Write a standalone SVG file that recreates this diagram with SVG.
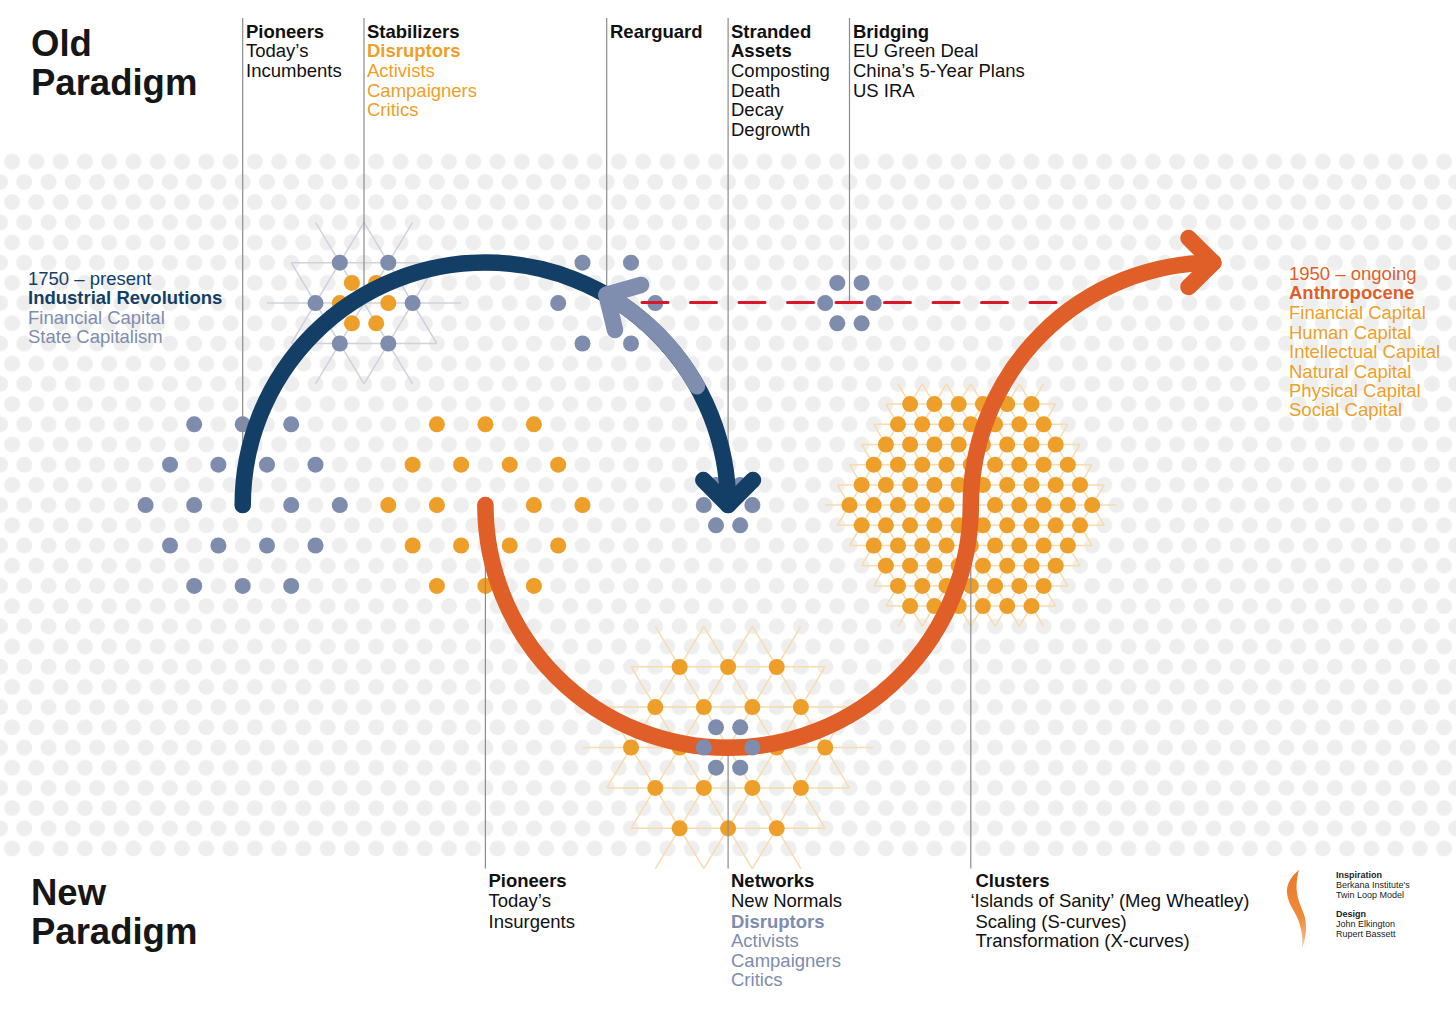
<svg xmlns="http://www.w3.org/2000/svg" width="1456" height="1011" viewBox="0 0 1456 1011">
<style>
text{font-family:"Liberation Sans",Arial,Helvetica,sans-serif;font-size:18.5px;fill:#111}
.h{font-size:36.5px;font-weight:700;fill:#161616}
.b{font-weight:700}
.o{fill:#ee9f2a}
.s{fill:#7e8dae}
.n{fill:#133f66}
.r{fill:#e05f28}
.c{font-size:9px;fill:#222}
.dot-o{fill:#ee9f2a}
.dot-s{fill:#7e8dae}
.lat{fill:none;stroke-width:1.5;vector-effect:non-scaling-stroke}
.v{fill:none;stroke:#8c8c8c;stroke-width:1.2}
.arc{fill:none;stroke-width:16.5;stroke-linecap:round;stroke-linejoin:round}
</style>
<defs>
<pattern id="bg" patternUnits="userSpaceOnUse" x="0" y="151.6" width="24.27" height="40.4">
<rect width="24.27" height="40.4" fill="#fff"/>
<circle cx="12.135" cy="10.1" r="8" fill="#eeeeee"/>
<circle cx="0" cy="30.3" r="8" fill="#eeeeee"/>
<circle cx="24.27" cy="30.3" r="8" fill="#eeeeee"/>
</pattern>
<linearGradient id="fl" x1="0" y1="0" x2="0" y2="1">
<stop offset="0" stop-color="#ea7a2c"/><stop offset="0.6" stop-color="#ee8a3a"/><stop offset="1" stop-color="#f6c9a0"/>
</linearGradient>
<g id="r11" class="dot-o"><circle cx="849.45" r="8"/><circle cx="873.72" r="8"/><circle cx="897.99" r="8"/><circle cx="922.26" r="8"/><circle cx="946.53" r="8"/><circle cx="970.8" r="8"/><circle cx="995.07" r="8"/><circle cx="1019.34" r="8"/><circle cx="1043.61" r="8"/><circle cx="1067.88" r="8"/><circle cx="1092.15" r="8"/></g>
<g id="r10" class="dot-o"><circle cx="861.6" r="8"/><circle cx="885.9" r="8"/><circle cx="910.1" r="8"/><circle cx="934.4" r="8"/><circle cx="958.7" r="8"/><circle cx="982.9" r="8"/><circle cx="1007.2" r="8"/><circle cx="1031.5" r="8"/><circle cx="1055.7" r="8"/><circle cx="1080" r="8"/></g>
<g id="r9" class="dot-o"><circle cx="873.72" r="8"/><circle cx="897.99" r="8"/><circle cx="922.26" r="8"/><circle cx="946.53" r="8"/><circle cx="970.8" r="8"/><circle cx="995.07" r="8"/><circle cx="1019.34" r="8"/><circle cx="1043.61" r="8"/><circle cx="1067.88" r="8"/></g>
<g id="r8" class="dot-o"><circle cx="885.9" r="8"/><circle cx="910.1" r="8"/><circle cx="934.4" r="8"/><circle cx="958.7" r="8"/><circle cx="982.9" r="8"/><circle cx="1007.2" r="8"/><circle cx="1031.5" r="8"/><circle cx="1055.7" r="8"/></g>
<g id="r7" class="dot-o"><circle cx="897.99" r="8"/><circle cx="922.26" r="8"/><circle cx="946.53" r="8"/><circle cx="970.8" r="8"/><circle cx="995.07" r="8"/><circle cx="1019.34" r="8"/><circle cx="1043.61" r="8"/></g>
<g id="r6" class="dot-o"><circle cx="910.1" r="8"/><circle cx="934.4" r="8"/><circle cx="958.7" r="8"/><circle cx="982.9" r="8"/><circle cx="1007.2" r="8"/><circle cx="1031.5" r="8"/></g>
</defs>

<rect width="1456" height="1011" fill="#fff"/>
<rect id="dot-field" x="0" y="151.6" width="1456" height="707" fill="url(#bg)"/>

<g id="node-stabilizers-old">
<path class="lat" stroke="#cfd2de" transform="translate(364.05 303.1) scale(24.27 40.4)" d="M-4 0H4M-3-1H3M-3 1H3M-3-1L0 2M-2-2L2 2M0-2L3 1M3-1L0 2M2-2L-2 2M0-2L-3 1"/>
<g class="dot-s"><circle cx="339.8" cy="262.7" r="8"/><circle cx="388.3" cy="262.7" r="8"/><circle cx="315.5" cy="303.1" r="8"/><circle cx="412.6" cy="303.1" r="8"/><circle cx="339.8" cy="343.5" r="8"/><circle cx="388.3" cy="343.5" r="8"/></g>
<g class="dot-o"><circle cx="351.9" cy="282.9" r="8"/><circle cx="376.2" cy="282.9" r="8"/><circle cx="339.8" cy="303.1" r="8"/><circle cx="388.3" cy="303.1" r="8"/><circle cx="351.9" cy="323.3" r="8"/><circle cx="376.2" cy="323.3" r="8"/></g>
</g>

<g id="node-pioneers-old" class="dot-s">
<circle cx="194.2" cy="424.3" r="8"/><circle cx="242.7" cy="424.3" r="8"/><circle cx="291.2" cy="424.3" r="8"/>
<circle cx="170" cy="464.7" r="8"/><circle cx="218.4" cy="464.7" r="8"/><circle cx="267" cy="464.7" r="8"/><circle cx="315.5" cy="464.7" r="8"/>
<circle cx="145.6" cy="505.1" r="8"/><circle cx="194.2" cy="505.1" r="8"/><circle cx="242.7" cy="505.1" r="8"/><circle cx="291.2" cy="505.1" r="8"/><circle cx="339.8" cy="505.1" r="8"/>
<circle cx="170" cy="545.5" r="8"/><circle cx="218.4" cy="545.5" r="8"/><circle cx="267" cy="545.5" r="8"/><circle cx="315.5" cy="545.5" r="8"/>
<circle cx="194.2" cy="585.9" r="8"/><circle cx="242.7" cy="585.9" r="8"/><circle cx="291.2" cy="585.9" r="8"/>
</g>

<g id="node-pioneers-new" class="dot-o">
<circle cx="436.9" cy="424.3" r="8"/><circle cx="485.4" cy="424.3" r="8"/><circle cx="533.9" cy="424.3" r="8"/>
<circle cx="412.6" cy="464.7" r="8"/><circle cx="461.1" cy="464.7" r="8"/><circle cx="509.7" cy="464.7" r="8"/><circle cx="558.2" cy="464.7" r="8"/>
<circle cx="388.3" cy="505.1" r="8"/><circle cx="436.9" cy="505.1" r="8"/><circle cx="485.4" cy="505.1" r="8"/><circle cx="533.9" cy="505.1" r="8"/><circle cx="582.5" cy="505.1" r="8"/>
<circle cx="412.6" cy="545.5" r="8"/><circle cx="461.1" cy="545.5" r="8"/><circle cx="509.7" cy="545.5" r="8"/><circle cx="558.2" cy="545.5" r="8"/>
<circle cx="436.9" cy="585.9" r="8"/><circle cx="485.4" cy="585.9" r="8"/><circle cx="533.9" cy="585.9" r="8"/>
</g>

<g id="node-rearguard" class="dot-s">
<circle cx="582.5" cy="262.7" r="8"/><circle cx="631" cy="262.7" r="8"/><circle cx="558.2" cy="303.1" r="8"/><circle cx="655.3" cy="303.1" r="8"/><circle cx="582.5" cy="343.5" r="8"/><circle cx="631" cy="343.5" r="8"/>
</g>

<g id="node-bridging" class="dot-s">
<circle cx="837.3" cy="282.9" r="8"/><circle cx="861.6" cy="282.9" r="8"/><circle cx="825.2" cy="303.1" r="8"/><circle cx="873.7" cy="303.1" r="8"/><circle cx="837.3" cy="323.3" r="8"/><circle cx="861.6" cy="323.3" r="8"/>
</g>

<g id="node-stranded" class="dot-s">
<circle cx="716" cy="484.9" r="8"/><circle cx="740.2" cy="484.9" r="8"/><circle cx="703.8" cy="505.1" r="8"/><circle cx="752.4" cy="505.1" r="8"/><circle cx="716" cy="525.3" r="8"/><circle cx="740.2" cy="525.3" r="8"/>
</g>

<g id="node-clusters">
<path class="lat" stroke="#f8dcae" transform="translate(970.8 505.1) scale(12.135 20.2)" d="M-12 0H12M-11-1H11M-11 1H11M-10-2H10M-10 2H10M-9-3H9M-9 3H9M-8-4H8M-8 4H8M-7-5H7M-7 5H7M-11-1L-4 6M-10-2L-2 6M-9-3L0 6M-8-4L2 6M-7-5L4 6M-6-6L6 6M-4-6L7 5M-2-6L8 4M0-6L9 3M2-6L10 2M4-6L11 1M11-1L4 6M10-2L2 6M9-3L0 6M8-4L-2 6M7-5L-4 6M6-6L-6 6M4-6L-7 5M2-6L-8 4M0-6L-9 3M-2-6L-10 2M-4-6L-11 1"/>
<use href="#r6" y="404.1"/><use href="#r7" y="424.3"/><use href="#r8" y="444.5"/><use href="#r9" y="464.7"/><use href="#r10" y="484.9"/><use href="#r11" y="505.1"/><use href="#r10" y="525.3"/><use href="#r9" y="545.5"/><use href="#r8" y="565.7"/><use href="#r7" y="585.9"/><use href="#r6" y="606.1"/>
</g>

<g id="node-networks">
<path class="lat" stroke="#f8dcae" transform="translate(728.1 747.5) scale(24.27 40.4)" d="M-6 0H6M-5-1H5M-5 1H5M-4-2H4M-4 2H4M-5-1L-1 3M-4-2L1 3M-3-3L3 3M-1-3L4 2M1-3L5 1M5-1L1 3M4-2L-1 3M3-3L-3 3M1-3L-4 2M-1-3L-5 1"/>
<g class="dot-o">
<circle cx="679.6" cy="667" r="8"/><circle cx="728.1" cy="667" r="8"/><circle cx="776.7" cy="667" r="8"/>
<circle cx="655.3" cy="707.1" r="8"/><circle cx="703.8" cy="707.1" r="8"/><circle cx="752.4" cy="707.1" r="8"/><circle cx="800.9" cy="707.1" r="8"/>
<circle cx="631" cy="747.5" r="8"/><circle cx="679.6" cy="747.5" r="8"/><circle cx="728.1" cy="747.5" r="8"/><circle cx="776.7" cy="747.5" r="8"/><circle cx="825.2" cy="747.5" r="8"/>
<circle cx="655.3" cy="787.9" r="8"/><circle cx="703.8" cy="787.9" r="8"/><circle cx="752.4" cy="787.9" r="8"/><circle cx="800.9" cy="787.9" r="8"/>
<circle cx="679.6" cy="828.3" r="8"/><circle cx="728.1" cy="828.3" r="8"/><circle cx="776.7" cy="828.3" r="8"/>
</g>
</g>

<g id="connectors">
<g id="stems">
<path class="v" d="M242.7 18V505M364 18V303M606.7 18V296M728.1 18V505M849.5 18V303M485.4 505V868.5M728.1 748V868.5M970.8 505V868.5"/>
</g>
<path id="bridge" fill="none" stroke="#d7182a" stroke-width="3" stroke-linecap="round" stroke-dasharray="26 22.5" d="M642 302.5H1058"/>
<path id="old-loop" class="arc" stroke="#133f66" d="M242.7 505.1A242.7 242.7 0 0 1 728.1 505.1"/>
<path id="old-arrow" class="arc" stroke="#133f66" d="M703.3 480L728.1 505L753 480"/>
<path id="rearguard-return" class="arc" stroke="#7f8eae" d="M697 386.2A242.7 242.7 0 0 0 606.5 294.8"/>
<path id="rearguard-arrow" class="arc" stroke="#7f8eae" d="M641 285L606.5 294.8L615 330"/>
<path id="new-loop" class="arc" stroke="#e05f28" d="M485.4 505.1A242.7 242.7 0 0 0 970.8 505.1A242.7 242.7 0 0 1 1213.4 262.7"/>
<path id="new-arrow" class="arc" stroke="#e05f28" d="M1188.5 238L1213.4 262.7L1188.5 287"/>
</g>

<g id="node-networks-inner" class="dot-s">
<circle cx="716" cy="727.3" r="8"/><circle cx="740.2" cy="727.3" r="8"/><circle cx="703.8" cy="747.5" r="8"/><circle cx="752.4" cy="747.5" r="8"/><circle cx="716" cy="767.7" r="8"/><circle cx="740.2" cy="767.7" r="8"/>
</g>

<g id="title-old"><text class="h" x="31" y="56">Old</text><text class="h" x="31" y="95">Paradigm</text></g>
<g id="title-new"><text class="h" x="31" y="905">New</text><text class="h" x="31" y="944">Paradigm</text></g>

<g id="label-pioneers-old"><text class="b" x="246" y="37.5">Pioneers</text><text x="246" y="57">Today’s</text><text x="246" y="76.5">Incumbents</text></g>
<g id="label-stabilizers"><text class="b" x="367" y="37.5">Stabilizers</text><text class="b o" x="367" y="57">Disruptors</text><text class="o" x="367" y="77">Activists</text><text class="o" x="367" y="96.5">Campaigners</text><text class="o" x="367" y="116">Critics</text></g>
<g id="label-rearguard"><text class="b" x="610" y="37.5">Rearguard</text></g>
<g id="label-stranded"><text class="b" x="731" y="37.5">Stranded</text><text class="b" x="731" y="57">Assets</text><text x="731" y="77">Composting</text><text x="731" y="96.5">Death</text><text x="731" y="116">Decay</text><text x="731" y="135.5">Degrowth</text></g>
<g id="label-bridging"><text class="b" x="853" y="37.5">Bridging</text><text x="853" y="57">EU Green Deal</text><text x="853" y="77">China’s 5-Year Plans</text><text x="853" y="96.5">US IRA</text></g>

<g id="label-old-era"><text class="n" x="28" y="285">1750 – present</text><text class="b n" x="28" y="304">Industrial Revolutions</text><text class="s" x="28" y="324">Financial Capital</text><text class="s" x="28" y="343">State Capitalism</text></g>
<g id="label-new-era"><text class="r" x="1289" y="280">1950 – ongoing</text><text class="b r" x="1289" y="299">Anthropocene</text><text class="o" x="1289" y="319">Financial Capital</text><text class="o" x="1289" y="338.5">Human Capital</text><text class="o" x="1289" y="358">Intellectual Capital</text><text class="o" x="1289" y="377.5">Natural Capital</text><text class="o" x="1289" y="397">Physical Capital</text><text class="o" x="1289" y="416">Social Capital</text></g>

<g id="label-pioneers-new"><text class="b" x="488.5" y="887">Pioneers</text><text x="488.5" y="907">Today’s</text><text x="488.5" y="928">Insurgents</text></g>
<g id="label-networks"><text class="b" x="731" y="887">Networks</text><text x="731" y="907">New Normals</text><text class="b s" x="731" y="928">Disruptors</text><text class="s" x="731" y="947">Activists</text><text class="s" x="731" y="967">Campaigners</text><text class="s" x="731" y="986">Critics</text></g>
<g id="label-clusters"><text class="b" x="975.5" y="887">Clusters</text><text x="970.5" y="907">‘Islands of Sanity’ (Meg Wheatley)</text><text x="975.5" y="928">Scaling (S-curves)</text><text x="975.5" y="947">Transformation (X-curves)</text></g>

<g id="credits">
<path fill="url(#fl)" d="M1299 870C1290 877 1286 886 1287 893C1288 905 1296 912 1299 922C1302 932 1303 940 1302 948C1306 938 1307 928 1305 918C1302 905 1292 895 1299 870Z"/>
<text class="c b" x="1336" y="878">Inspiration</text><text class="c" x="1336" y="888">Berkana Institute's</text><text class="c" x="1336" y="897.5">Twin Loop Model</text>
<text class="c b" x="1336" y="917">Design</text><text class="c" x="1336" y="927">John Elkington</text><text class="c" x="1336" y="936.5">Rupert Bassett</text>
</g>
</svg>
